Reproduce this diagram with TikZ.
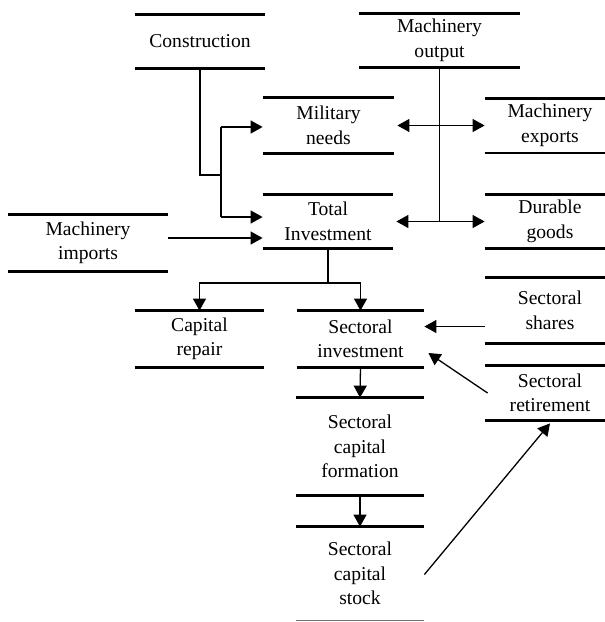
\documentclass[tikz,border=0pt]{standalone}
\usepackage{fontspec}
\setmainfont{Liberation Serif}
\usetikzlibrary{arrows.meta}
\begin{document}
\begin{tikzpicture}[x=0.5pt,y=-0.5pt,
  box/.style args={#1/#2}{minimum width=#1*0.5pt, minimum height=#2*0.5pt, inner sep=0pt,
    align=center, font=\fontsize{9.8}{12.25}\selectfont},
  bar/.style={line width=1.4pt},
  conn/.style={line width=0.65pt},
  arr/.style={conn,-{Triangle[length=6pt,width=6.5pt]}},
  darr/.style={conn,{Triangle[length=6pt,width=6.5pt]}-{Triangle[length=6pt,width=6.5pt]}}]
\useasboundingbox (0,0) rectangle (605,622);
\clip (0,0) rectangle (605,622);
% boxes
\node[box=130/53] (con)  at (200,41.5)   {Construction};
\node[box=161/53] (mout) at (439.5,40.5) {Machinery\\output};
\node[box=131/55] (mil)  at (328.5,125.5) {Military\\needs};
\node[box=130/54] (mexp) at (550,125.5)  {Machinery\\exports};
\node[box=130/53] (tot)  at (328,221.5)  {Total\\Investment};
\node[box=130/53] (dur)  at (550,221.5)  {Durable\\goods};
\node[box=160/56] (mimp) at (88,243)     {Machinery\\imports};
\node[box=129/56] (cap)  at (199.5,339)  {Capital\\repair};
\node[box=127/56] (sinv) at (360.5,339)  {Sectoral\\investment};
\node[box=130/65] (sshr) at (550,310.5)  {Sectoral\\shares};
\node[box=130/54] (sret) at (550,393)    {Sectoral\\retirement};
\node[box=128/97] (scf)  at (360,446.5)  {Sectoral\\capital\\formation};
\node[box=128/93] (scs)  at (360,573.5)  {Sectoral\\capital\\stock};
% bars
\foreach \n in {con,mout,mil,mexp,tot,dur,mimp,cap,sinv,sshr,sret,scf}
  \draw[bar] (\n.north west) -- (\n.north east) (\n.south west) -- (\n.south east);
\draw[bar] (scs.north west) -- (scs.north east);
\draw[line width=0.6pt,black!55] (scs.south west) -- (scs.south east);
% construction connectors
\coordinate (cj) at (221,175);
\coordinate (ca) at (221,127);
\coordinate (cb) at (221,217);
\draw[conn] (con.south) |- (cj);
\draw[conn] (ca) -- (cb);
\draw[arr] (ca) -- (ca -| mil.west);
\draw[arr] (cb) -- (cb -| tot.west);
% machinery imports
\draw[arr] ([yshift=2.5pt]mimp.east) -- ([yshift=2.5pt]mimp.east -| tot.west);
% machinery output
\draw[conn] (mout.south) -- (mout.south |- tot.east);
\draw[darr] ([xshift=1.5pt]mil.east) -- (mexp.west);
\draw[darr] ([xshift=1.5pt]tot.east) -- (dur.west);
% total investment branch
\coordinate (br) at (328,283);
\draw[conn] (tot.south) -- (br);
\draw[arr] (br) -| (cap.north);
\draw[arr] (br) -| (sinv.north);
% sectoral chain
\draw[arr] (sinv.south) -- (scf.north);
\draw[arr] (scf.south) -- (scs.north);
\draw[arr] ([yshift=-8pt]sshr.west) -- ([yshift=-8pt]sshr.west -| sinv.east);
\draw[arr] ([xshift=1.5pt]sret.west) -- ([xshift=2pt,yshift=-7pt]sinv.east);
\draw[arr] ([yshift=-0.5pt]scs.east) -- ([yshift=-1.5pt]sret.south);
\end{tikzpicture}
\end{document}
